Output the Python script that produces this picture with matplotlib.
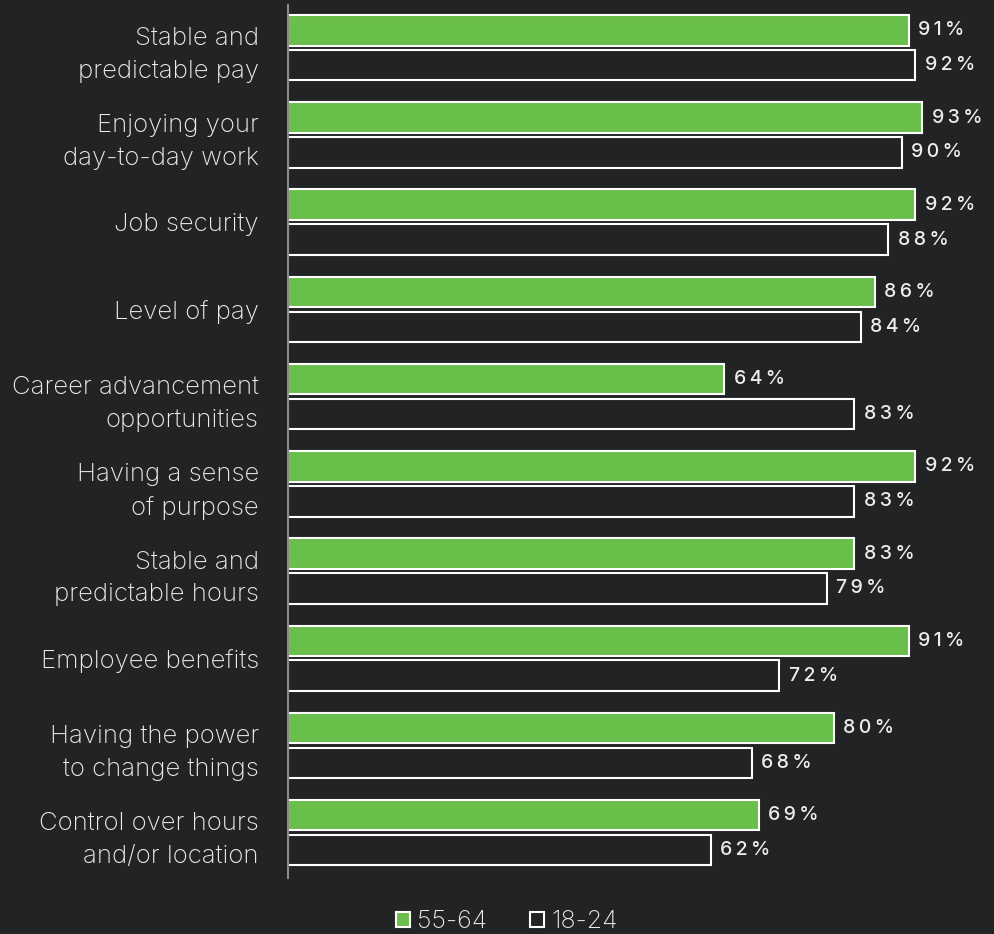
import matplotlib.pyplot as plt
import numpy as np

plt.rcParams['font.family'] = ['Inter', 'DejaVu Sans']

categories = [
    "Stable and\npredictable pay",
    "Enjoying your\nday-to-day work",
    "Job security",
    "Level of pay",
    "Career advancement\nopportunities",
    "Having a sense\nof purpose",
    "Stable and\npredictable hours",
    "Employee benefits",
    "Having the power\nto change things",
    "Control over hours\nand/or location",
]
older = [91, 93, 92, 86, 64, 92, 83, 91, 80, 69]    # 55-64
younger = [92, 90, 88, 84, 83, 83, 79, 72, 68, 62]  # 18-24
series_names = ["55-64", "18-24"]

bg = '#222324'
green = '#6abf4b'
text_col = '#ececec'


def spaced(s):
    # loose tracking on the value labels
    return '\u2009'.join(s)


fig = plt.figure(figsize=(9.95, 9.34), dpi=100, facecolor=bg)
ax = fig.add_axes([288 / 995, 1 - 878 / 934, (970 - 288) / 995, (878 - 5) / 934])
ax.set_facecolor(bg)

y = np.arange(len(categories))
h = 0.35
b1 = ax.barh(y - 0.2, older, height=h, color=green, edgecolor='white', linewidth=1.5, label=series_names[0])
b2 = ax.barh(y + 0.2, younger, height=h, color=bg, edgecolor='white', linewidth=1.5, label=series_names[1])

for bars, vals in ((b1, older), (b2, younger)):
    for bar, v in zip(bars, vals):
        ax.text(v + 1.4, bar.get_y() + bar.get_height() / 2, spaced(f"{v}%"), va='center', ha='left',
                color=text_col, fontsize=14, fontweight='medium')

ax.set_xlim(0, 100)
ax.set_ylim(9.52, -0.49)
ax.set_xticks([])
ax.set_yticks(y)
ax.set_yticklabels(categories, fontsize=18.5, color=text_col, fontweight='light', linespacing=1.55)
ax.tick_params(axis='y', length=0, pad=21)
for s in ['top', 'right', 'bottom']:
    ax.spines[s].set_visible(False)
ax.spines['left'].set_color('#8a8a8a')
ax.spines['left'].set_linewidth(1.5)

leg = fig.legend(handles=[b1, b2], labels=series_names, loc='center', bbox_to_anchor=(507 / 995, 1 - 922 / 934),
                 ncol=2, frameon=False, fontsize=18, handlelength=0.55, handleheight=0.55,
                 handletextpad=0.3, columnspacing=1.7)
for t in leg.get_texts():
    t.set_color(text_col)
    t.set_fontweight('light')

fig.savefig('out.png', dpi=100, facecolor=bg)
